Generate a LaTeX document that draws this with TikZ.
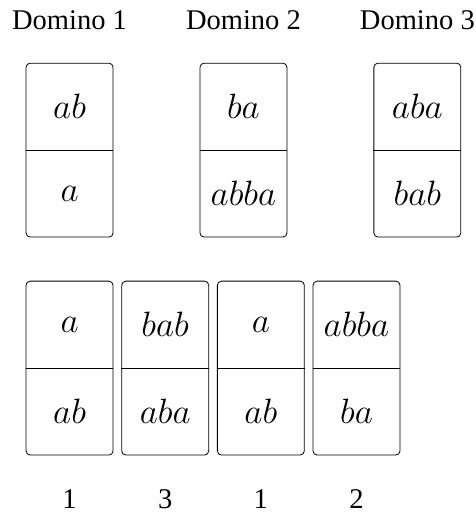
\documentclass[tikz,border=0pt]{standalone}
\usepackage{fontspec}
\setmainfont{Liberation Serif}
\usetikzlibrary{positioning}

\tikzset{
  tile/.style={draw, rounded corners=2pt, minimum width=1.5cm, minimum height=3cm, inner sep=0pt},
  word/.style={inner sep=0pt, font=\fontsize{17.28}{20}\selectfont},
  lab/.style={inner sep=0pt, font=\fontsize{14}{17}\selectfont}
}

\begin{document}
\begin{tikzpicture}
        \useasboundingbox (0,0) rectangle (8.21,8.85);
        % the three dominoes
        \node[tile] (d1) at (1.2,6.26) {};
        \node[tile] (d2) at (4.2,6.26) {};
        \node[tile] (d3) at (7.2,6.26) {};
        \draw (d1.west) -- (d1.east);
        \draw (d2.west) -- (d2.east);
        \draw (d3.west) -- (d3.east);
        \node[word] (d1t) at ([yshift=0.75cm]d1.center) {$ab$};
        \node[word] (d1b) at ([yshift=-0.75cm]d1.center) {$a$};
        \node[word] (d2t) at ([yshift=0.75cm]d2.center) {$ba$};
        \node[word] (d2b) at ([yshift=-0.75cm]d2.center) {$abba$};
        \node[word] (d3t) at ([yshift=0.75cm]d3.center) {$aba$};
        \node[word] (d3b) at ([yshift=-0.75cm]d3.center) {$bab$};
        \node[lab] (l1) at (1.2,8.5) {Domino 1};
        \node[lab] (l2) at (4.2,8.5) {Domino 2};
        \node[lab] (l3) at (7.2,8.5) {Domino 3};
        % the match
        \node[tile] (m1) at (1.2,2.5) {};
        \node[tile] (m2) at (2.85,2.5) {};
        \node[tile] (m3) at (4.5,2.5) {};
        \node[tile] (m4) at (6.15,2.5) {};
        \draw (m1.west) -- (m1.east);
        \draw (m2.west) -- (m2.east);
        \draw (m3.west) -- (m3.east);
        \draw (m4.west) -- (m4.east);
        \node[word] (m1t) at ([yshift=0.75cm]m1.center) {$a$};
        \node[word] (m1b) at ([yshift=-0.75cm]m1.center) {$ab$};
        \node[word] (m2t) at ([yshift=0.75cm]m2.center) {$bab$};
        \node[word] (m2b) at ([yshift=-0.75cm]m2.center) {$aba$};
        \node[word] (m3t) at ([yshift=0.75cm]m3.center) {$a$};
        \node[word] (m3b) at ([yshift=-0.75cm]m3.center) {$ab$};
        \node[word] (m4t) at ([yshift=0.75cm]m4.center) {$abba$};
        \node[word] (m4b) at ([yshift=-0.75cm]m4.center) {$ba$};
        \node[lab] (n1) at (1.2,0.24) {1};
        \node[lab] (n2) at (2.85,0.24) {3};
        \node[lab] (n3) at (4.5,0.24) {1};
        \node[lab] (n4) at (6.15,0.24) {2};
    \end{tikzpicture}
\end{document}
